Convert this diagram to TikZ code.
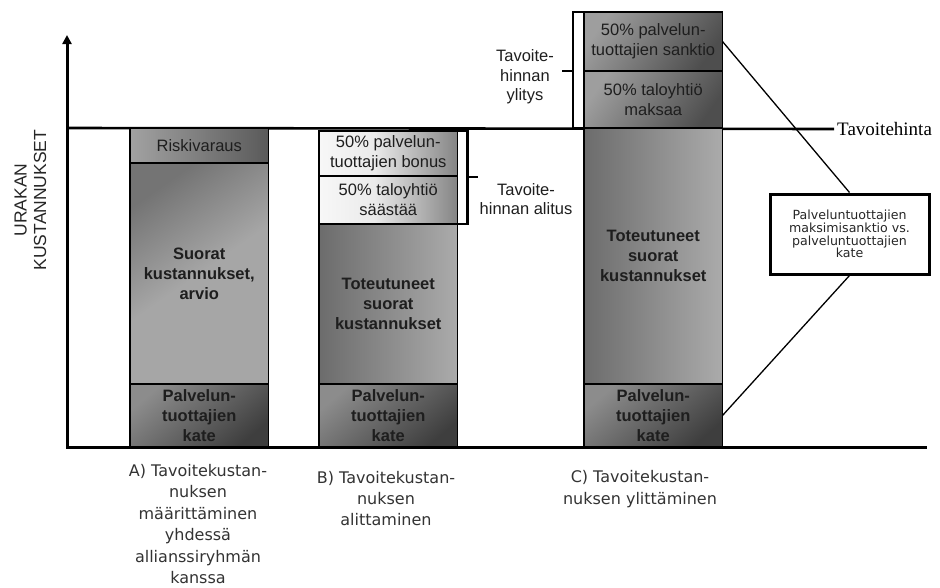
\documentclass[tikz,border=0pt]{standalone}
\usepackage{fontspec}
\setmainfont{Liberation Sans}
\newfontfamily\dvs{DejaVu Sans}
\newfontfamily\lserif{Liberation Serif}
\usetikzlibrary{arrows.meta}
\definecolor{riskL}{HTML}{A2A2A2}
\definecolor{riskR}{HTML}{5A5A5A}
\definecolor{kateL}{HTML}{8C8C8C}
\definecolor{kateR}{HTML}{3E3E3E}
\definecolor{totL}{HTML}{6C6C6C}
\definecolor{totR}{HTML}{ABABAB}
\definecolor{sanL}{HTML}{9E9E9E}
\definecolor{sanR}{HTML}{4E4E4E}
\definecolor{supA}{HTML}{747474}
\definecolor{supB}{HTML}{A6A6A6}
\definecolor{txt}{HTML}{1E1E1E}
\pgfdeclarehorizontalshading{lightbar}{100bp}{color(0bp)=(white); color(25bp)=(white!97!black); color(45bp)=(white!92!black); color(75bp)=(white!52!black); color(100bp)=(white!52!black)}
\tikzset{
  seg/.style={draw=black, line width=1.4pt, minimum width=138.5pt, anchor=north west,
    inner sep=0pt, outer sep=0pt, align=center, text=txt,
    font=\fontsize{16.5}{20}\selectfont},
  segb/.style={seg, font=\bfseries\fontsize{16.5}{20}\selectfont},
  katebox/.style={segb, minimum height=63pt, top color=kateL, bottom color=kateR, shading angle=40},
  totbox/.style={segb, left color=totL, right color=totR},
  lightbox/.style={seg, shading=lightbar},
  darkbox/.style={seg, top color=sanL, bottom color=sanR, shading angle=55},
  axisline/.style={line width=3pt},
  bracket/.style={line width=2.6pt},
  sidelabel/.style={align=center, text=txt, font=\fontsize{16.5}{19.5}\selectfont},
  botlabel/.style={align=center, text=black!80, font=\dvs\fontsize{16}{21.4}\selectfont},
  thinline/.style={line width=1.3pt},
}
\begin{document}
\begin{tikzpicture}[x=1pt,y=-1pt]
\useasboundingbox (0,0) rectangle (940,587);
% axes
\coordinate (O) at (67,447);
\coordinate (ytop) at (67,35);
\coordinate (xend) at (927,447);
\coordinate (tl) at (67,128);
\node[anchor=west, inner sep=0pt, font=\lserif\fontsize{19}{22}\selectfont] (tav) at (837,129) {Tavoitehinta};
\draw[axisline] (O) -- (xend);
\draw[line width=2.6pt] (tl) -- ([xshift=-3pt]tav.west);
\draw[axisline, -{Triangle[width=9pt,length=9pt]}] ([yshift=-1.5pt]O) -- (ytop);
\node[rotate=90, align=center, font=\fontsize{17.5}{19.5}\selectfont, text=black!85] (ylab) at (30.5,200) {URAKAN\\KUSTANNUKSET};
% bar A
\node[seg, minimum height=35pt, left color=riskL, right color=riskR] (A1) at (130,128) {Riskivaraus};
\node[segb, minimum height=221pt, top color=supA, bottom color=supB, middle color=supB, shading angle=35] (A2) at (130,163) {Suorat\\kustannukset,\\arvio};
\node[katebox] (A3) at (130,384) {Palvelun-\\tuottajien\\kate};
% bar B
\node[lightbox, minimum height=45pt] (B1) at (319,131) {50\% palvelun-\\tuottajien bonus};
\node[lightbox, minimum height=48pt] (B2) at (319,176) {50\% taloyhtiö\\säästää};
\node[totbox, minimum height=160pt] (B3) at (319,224) {Toteutuneet\\suorat\\kustannukset};
\node[katebox] (B4) at (319,384) {Palvelun-\\tuottajien\\kate};
% bar C
\node[darkbox, minimum height=59pt] (C1) at (584,12) {50\% palvelun-\\tuottajien sanktio};
\node[darkbox, minimum height=57pt] (C2) at (584,71) {50\% taloyhtiö\\maksaa};
\node[totbox, minimum height=256pt] (C3) at (584,128) {Toteutuneet\\suorat\\kustannukset};
\node[katebox] (C4) at (584,384) {Palvelun-\\tuottajien\\kate};
% brackets
\draw[bracket] (B1.north east) -- ++(10,0) coordinate (bt) |- (B2.south east);
\draw[bracket] (bt |- B1.south east) ++(0,1) -- ++(10,0);
\draw[bracket] (C1.north west) -- ++(-11,0) coordinate (ct) |- (C2.south west);
\draw[bracket] (ct |- C1.south west) -- ++(-11,0);
\node[sidelabel] (alitus) at (526,199) {Tavoite-\\hinnan alitus};
\node[sidelabel] (ylitys) at (525,77) {Tavoite-\\hinnan\\ylitys};
% callout
\node[draw=black, line width=3pt, minimum width=159pt, minimum height=80pt, inner sep=0pt,
  align=center, font=\dvs\fontsize{12.6}{12.6}\selectfont, text=black!85] (cb) at (849.5,234)
  {Palveluntuottajien\\maksimisanktio vs.\\palveluntuottajien\\kate};
\draw[thinline] (C1.east) -- (cb.north);
\draw[thinline] (cb.south) -- (C4.east);
% bottom labels
\node[botlabel] (la) at (198,524) {A) Tavoitekustan-\\nuksen\\määrittäminen\\yhdessä\\allianssiryhmän\\kanssa};
\node[botlabel] (lb) at (386,498.5) {B) Tavoitekustan-\\nuksen\\alittaminen};
\node[botlabel] (lc) at (640,489) {C) Tavoitekustan-\\nuksen ylittäminen};
\end{tikzpicture}
\end{document}
